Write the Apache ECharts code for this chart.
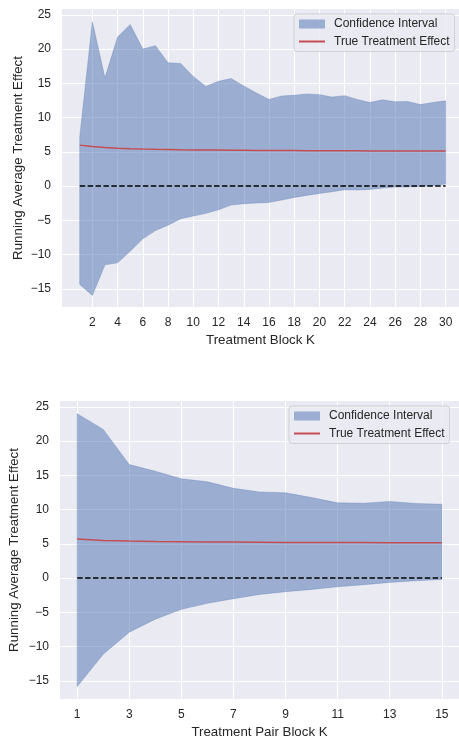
<!DOCTYPE html>
<html><head><meta charset="utf-8">
<script src="https://cdn.jsdelivr.net/npm/echarts@6/dist/echarts.min.js"></script>
<style>html,body{margin:0;padding:0;background:#fff}#c{width:459px;height:740px}</style>
</head><body><div id="c"></div>
<script>
// ---- Data: Treatment Block K (top panel) ----
const blockK = [1,2,3,4,5,6,7,8,9,10,11,12,13,14,15,16,17,18,19,20,21,22,23,24,25,26,27,28,29,30];
const blockUpper = [7.15,24.0,15.8,21.75,23.6,20.0,20.5,18.0,17.9,16.0,14.55,15.3,15.7,14.6,13.6,12.65,13.15,13.25,13.45,13.35,13.0,13.2,12.65,12.2,12.6,12.3,12.35,11.9,12.2,12.45];
const blockLower = [-14.35,-15.96,-11.5,-11.2,-9.5,-7.7,-6.5,-5.7,-4.77,-4.37,-3.98,-3.45,-2.77,-2.58,-2.48,-2.38,-2.04,-1.65,-1.36,-1.07,-0.82,-0.53,-0.58,-0.48,-0.29,-0.14,-0.14,-0.05,0.05,0.3];
const blockTrue = [5.98,5.78,5.62,5.52,5.45,5.40,5.36,5.33,5.30,5.28,5.26,5.25,5.23,5.22,5.21,5.20,5.19,5.18,5.17,5.16,5.16,5.15,5.15,5.14,5.14,5.13,5.13,5.12,5.12,5.11];
const blockXTicks = [2,4,6,8,10,12,14,16,18,20,22,24,26,28,30];

// ---- Data: Treatment Pair Block K (bottom panel) ----
const pairK = [1,2,3,4,5,6,7,8,9,10,11,12,13,14,15];
const pairUpper = [24.0,21.7,16.57,15.6,14.5,14.05,13.1,12.58,12.44,11.76,10.98,10.93,11.18,10.89,10.79];
const pairLower = [-15.84,-11.1,-7.9,-6.0,-4.56,-3.69,-3.01,-2.38,-1.99,-1.65,-1.26,-0.97,-0.63,-0.39,-0.2];
const pairTrue = [5.72,5.50,5.40,5.34,5.30,5.27,5.25,5.23,5.21,5.20,5.19,5.18,5.17,5.16,5.15];
const pairXTicks = [1,3,5,7,9,11,13,15];

const yTicks = [-15,-10,-5,0,5,10,15,20,25];
const nullEffect = 0;

const TXT = '#262626';
const FONT = '"Liberation Sans", Arial, "DejaVu Sans", sans-serif';
const fmt = v => String(v).replace('-', '\u2212');

function xAxisCfg(idx, name, ticks, min, max) {
  return {
    type: 'value', gridIndex: idx, min: min, max: max,
    name: name, nameLocation: 'middle', nameGap: 27, nameMoveOverlap: false,
    nameTextStyle: {color: TXT, fontSize: 13.3, fontFamily: FONT},
    axisLine: {show: false}, axisTick: {show: false, customValues: ticks},
    axisLabel: {customValues: ticks, color: TXT, fontSize: 12, fontFamily: FONT, margin: 10, formatter: fmt},
    splitLine: {show: true, lineStyle: {color: '#ffffff', width: 1}}
  };
}
function yAxisCfg(idx, gap) {
  return {
    type: 'value', gridIndex: idx, min: -17.65, max: 25.85,
    name: 'Running Average Treatment Effect', nameLocation: 'middle', nameGap: gap, nameRotate: 90,
    nameMoveOverlap: false,
    nameTextStyle: {color: TXT, fontSize: 13.3, fontFamily: FONT},
    axisLine: {show: false}, axisTick: {show: false, customValues: yTicks},
    axisLabel: {customValues: yTicks, color: TXT, fontSize: 12, fontFamily: FONT, margin: 11, formatter: fmt},
    splitLine: {show: true, lineStyle: {color: '#ffffff', width: 1}}
  };
}
function bandSeries(idx, k, lower, upper) {
  return {
    type: 'custom', name: 'Confidence Interval', xAxisIndex: idx, yAxisIndex: idx,
    color: 'rgba(76,114,176,0.5)', silent: true, z: 2,
    data: k.map((x, i) => [x, lower[i], upper[i]]),
    encode: {x: 0, y: [1, 2]},
    renderItem: function (params, api) {
      if (params.dataIndex !== 0) return null;
      const pts = [];
      for (let i = 0; i < k.length; i++) pts.push(api.coord([k[i], upper[i]]));
      for (let i = k.length - 1; i >= 0; i--) pts.push(api.coord([k[i], lower[i]]));
      return {type: 'polygon', shape: {points: pts},
              style: {fill: '#4c72b0', opacity: 0.5, stroke: '#4c72b0', lineWidth: 0.6}};
    }
  };
}
function panelSeries(idx, k, lower, upper, truth) {
  return [
    bandSeries(idx, k, lower, upper),
    {type: 'line', name: 'True Treatment Effect', xAxisIndex: idx, yAxisIndex: idx,
     data: k.map((x, i) => [x, truth[i]]), symbol: 'none', silent: true,
     color: '#c44e52', lineStyle: {color: '#c44e52', width: 1.5}, z: 4},
    {type: 'line', xAxisIndex: idx, yAxisIndex: idx,
     data: k.map(x => [x, nullEffect]), symbol: 'none', silent: true,
     lineStyle: {color: '#000000', width: 1.5, type: [5.5, 2.4]}, z: 5}
  ];
}
function legendCfg(left, top) {
  return {
    left: left, top: top, orient: 'vertical',
    backgroundColor: 'rgba(234,234,242,0.8)', borderColor: '#cfcfd6', borderWidth: 1, borderRadius: 3,
    padding: [4, 5, 4, 4], itemGap: 5.5, itemWidth: 26, itemHeight: 9,
    textStyle: {color: TXT, fontSize: 12, fontFamily: FONT, padding: [0, 0, 0, 4]},
    selectedMode: false,
    data: [
      {name: 'Confidence Interval', icon: 'rect', itemStyle: {color: 'rgba(76,114,176,0.5)'}},
      {name: 'True Treatment Effect', itemStyle: {color: 'rgba(0,0,0,0)', borderWidth: 0}}
    ]
  };
}

const chart = echarts.init(document.getElementById('c'), null, {renderer: 'canvas'});
chart.setOption({
  animation: false,
  backgroundColor: '#ffffff',
  grid: [
    {left: 62, top: 9, right: 0, height: 298, show: true, backgroundColor: '#eaeaf2', borderWidth: 0},
    {left: 58, top: 401, right: 0, height: 298, show: true, backgroundColor: '#eaeaf2', borderWidth: 0}
  ],
  xAxis: [
    xAxisCfg(0, 'Treatment Block K', blockXTicks, -0.405, 31.06),
    xAxisCfg(1, 'Treatment Pair Block K', pairXTicks, 0.34, 15.66)
  ],
  yAxis: [yAxisCfg(0, 37), yAxisCfg(1, 39)],
  legend: [legendCfg(294, 14), legendCfg(289, 406)],
  series: [].concat(
    panelSeries(0, blockK, blockLower, blockUpper, blockTrue),
    panelSeries(1, pairK, pairLower, pairUpper, pairTrue)
  )
});
</script></body></html>
